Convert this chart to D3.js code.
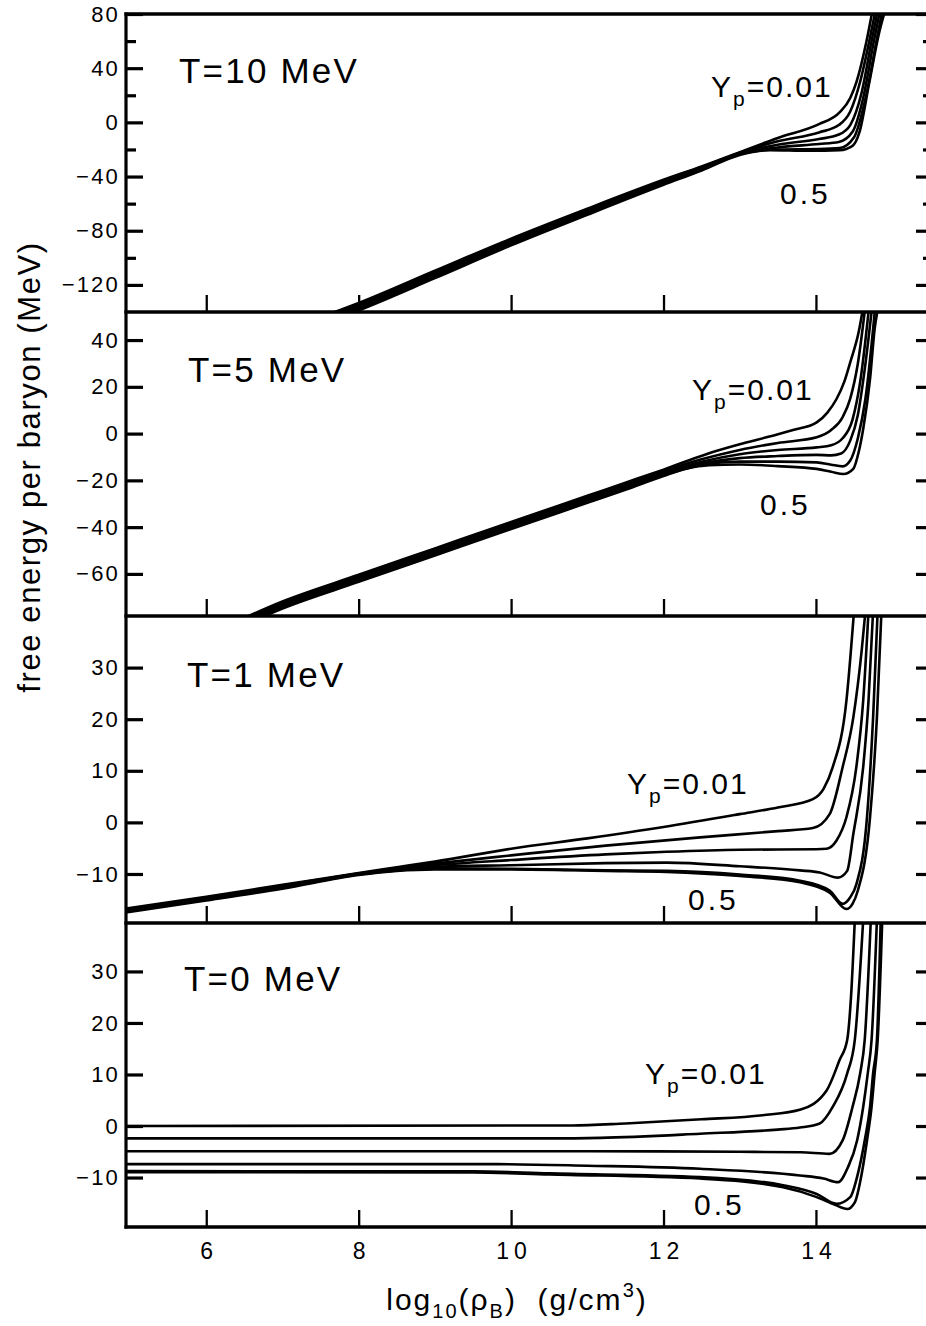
<!DOCTYPE html>
<html><head><meta charset="utf-8">
<script src="https://cdn.jsdelivr.net/npm/d3@7"></script>
<style>
body{margin:0;background:#fff;}
svg{display:block;}
text{font-family:"Liberation Sans",Arial,Helvetica,sans-serif;fill:#000;}
</style>
</head><body>
<svg id="chart" width="926" height="1326"></svg>
<script>
// ---------------- DATA ----------------
const xDomain = [4.947, 15.536];          // log10(rho_B) range of the plot frame
const xTicks = [6, 8, 10, 12, 14];
const ypValues = [0.01, 0.1, 0.2, 0.3, 0.4, 0.5];
const panelTitles = ["T=10 MeV", "T=5 MeV", "T=1 MeV", "T=0 MeV"];
const yDomains = [[-140, 80], [-78, 52], [-19.5, 40], [-19.6, 39.4]];
const yMajorTicks = [[-120, -80, -40, 0, 40, 80], [-60, -40, -20, 0, 20, 40], [-10, 0, 10, 20, 30], [-10, 0, 10, 20, 30]];
const yMinorTicks = [[-100, -60, -20, 20, 60], [], [], []];

// T = 10 MeV : [log10 rho, F/A (MeV)]
const T10_Yp001 = [[7.6,-141.8],[8,-133.3],[9,-109.5],[10,-85.8],[11,-63.7],[12,-42.4],[12.5,-32.5],[13,-22],[13.5,-11.5],[14.04,-1.3],[14.31,7.4],[14.45,18],[14.53,29.5],[14.66,59],[14.75,85]];
const T10_Yp01  = [[7.6,-142.9],[8,-134.4],[9,-110.6],[10,-86.8],[11,-64.6],[12,-43.1],[12.5,-33.1],[13,-22.4],[13.5,-14],[14.04,-7.4],[14.3,-2],[14.45,8],[14.58,30],[14.7,60],[14.79,85]];
const T10_Yp02  = [[7.6,-144],[8,-135.5],[9,-111.7],[10,-87.8],[11,-65.5],[12,-43.9],[12.5,-33.7],[13,-22.8],[13.5,-16.5],[14.04,-12.3],[14.3,-9],[14.45,-2],[14.6,22],[14.73,60],[14.82,85]];
const T10_Yp03  = [[7.6,-145.1],[8,-136.6],[9,-112.8],[10,-88.8],[11,-66.4],[12,-44.6],[12.5,-34.3],[13,-23.2],[13.5,-18.5],[14.04,-16],[14.3,-14.5],[14.48,-7],[14.62,18],[14.76,60],[14.85,85]];
const T10_Yp04  = [[7.6,-146.2],[8,-137.7],[9,-113.9],[10,-89.8],[11,-67.3],[12,-45.4],[12.5,-34.9],[13,-23.6],[13.5,-20],[14.04,-19.7],[14.31,-19],[14.5,-11],[14.66,20],[14.8,62],[14.88,85]];
const T10_Yp05  = [[7.6,-147.3],[8,-138.8],[9,-115],[10,-90.8],[11,-68.2],[12,-46.1],[12.5,-35.5],[13,-24],[13.39,-20.5],[13.91,-21],[14.31,-20.5],[14.48,-17.3],[14.57,-7.4],[14.7,29.5],[14.83,66.4],[14.92,85]];

// T = 5 MeV
const T5_Yp001 = [[6.4,-80.3],[7,-71.8],[8,-60.4],[9,-49.1],[10,-37.8],[11,-26.6],[11.5,-21],[12,-15.4],[12.57,-8.7],[13,-4.6],[13.35,-1.6],[13.7,1.5],[14.01,4.8],[14.15,9],[14.27,14.8],[14.37,22],[14.45,30.5],[14.56,43.3],[14.63,56]];
const T5_Yp01  = [[6.4,-80.9],[7,-72.4],[8,-61],[9,-49.7],[10,-38.4],[11,-27.2],[11.5,-21.6],[12,-16],[12.5,-11],[13,-7],[13.5,-4],[14.01,-1.6],[14.2,1.5],[14.35,7],[14.45,15],[14.55,30],[14.65,55]];
const T5_Yp02  = [[6.4,-81.5],[7,-73],[8,-61.6],[9,-50.3],[10,-39],[11,-27.8],[11.5,-22.2],[12,-16.6],[12.5,-12],[13,-8.8],[13.5,-7],[14.01,-5.9],[14.2,-5],[14.35,-2],[14.48,6],[14.58,22],[14.7,55]];
const T5_Yp03  = [[6.4,-82.1],[7,-73.6],[8,-62.2],[9,-50.9],[10,-39.6],[11,-28.4],[11.5,-22.8],[12,-17.2],[12.5,-12.8],[13,-10.5],[13.5,-9.6],[14.01,-9.1],[14.2,-9.3],[14.33,-8.5],[14.45,-3],[14.55,8],[14.63,25],[14.74,55]];
const T5_Yp04  = [[6.4,-82.7],[7,-74.2],[8,-62.8],[9,-51.5],[10,-40.2],[11,-29],[11.5,-23.4],[12,-17.7],[12.5,-13.4],[13,-12],[13.5,-12],[14.01,-12.3],[14.2,-13.3],[14.35,-14],[14.45,-11.5],[14.55,-2],[14.65,15],[14.78,55]];
const T5_Yp05  = [[6.4,-83.3],[7,-74.8],[8,-63.4],[9,-52.1],[10,-40.8],[11,-29.6],[11.5,-24],[12,-18.1],[12.3,-15],[12.6,-13.5],[13,-13.2],[13.5,-13.9],[14.01,-15.1],[14.2,-16.3],[14.36,-17.3],[14.49,-15.1],[14.56,-8],[14.62,2],[14.71,23.4],[14.77,44.7],[14.83,56]];

// T = 1 MeV
const T1_Yp001 = [[4.9,-16.8],[6,-14.4],[7,-12.1],[8,-9.8],[8.5,-8.7],[9,-7.6],[10,-5.1],[11,-3.1],[12,-0.9],[13,1.6],[13.5,2.9],[13.96,4.5],[14.1,6.5],[14.22,10.7],[14.4,23.6],[14.5,41]];
const T1_Yp01  = [[4.9,-16.95],[6,-14.55],[7,-12.25],[8,-9.9],[8.5,-8.9],[9,-8.0],[10,-6.4],[11.24,-4.5],[12.48,-2.9],[13.5,-1.7],[13.96,-1.1],[14.18,1.6],[14.35,10.7],[14.49,20.3],[14.6,33.3],[14.65,41]];
const T1_Yp02  = [[4.9,-17.1],[6,-14.7],[7,-12.4],[8,-9.95],[8.5,-9.0],[9,-8.3],[10,-7.3],[11.24,-6.2],[12.04,-5.7],[13,-5.3],[14.0,-5.2],[14.14,-5.1],[14.27,-3.5],[14.4,1.0],[14.53,10.7],[14.62,23.6],[14.69,41]];
const T1_Yp03  = [[4.9,-17.25],[6,-14.85],[7,-12.55],[8,-10.0],[8.5,-9.15],[9,-8.6],[10,-8.3],[11.24,-7.9],[12.04,-7.8],[13,-8.5],[13.79,-9.3],[14.05,-9.7],[14.29,-10.7],[14.41,-9.4],[14.49,-2.3],[14.62,10.7],[14.69,23.6],[14.75,41]];
const T1_Yp04  = [[4.9,-17.4],[6,-15.0],[7,-12.7],[8,-10.1],[8.5,-9.3],[9,-8.9],[10,-9.0],[11.24,-9.3],[12.04,-9.4],[13,-10.1],[13.79,-11.3],[14.18,-13.2],[14.35,-15.8],[14.45,-14.5],[14.53,-12.0],[14.67,1.0],[14.75,20.3],[14.81,41]];
const T1_Yp05  = [[4.9,-17.55],[6,-15.15],[7,-12.85],[8,-10.2],[8.5,-9.4],[9,-9.1],[10,-9.1],[11.24,-9.4],[12.04,-9.6],[13,-10.4],[13.79,-11.6],[14.18,-13.6],[14.4,-16.8],[14.48,-15.8],[14.55,-13.2],[14.71,1.0],[14.8,20.3],[14.86,41]];

// T = 0 MeV
const T0_Yp001 = [[4.9,0],[10.8,0.1],[11.5,0.5],[12.5,1.3],[13.3,2.1],[13.8,3.2],[14.14,6.9],[14.31,12.8],[14.41,16.7],[14.46,25],[14.51,40]];
const T0_Yp01  = [[4.9,-2.4],[10.5,-2.4],[11.17,-2.3],[12.48,-1.5],[13.5,-0.7],[13.79,-0.3],[14.05,0.5],[14.22,3.7],[14.41,10.2],[14.51,16.7],[14.62,40]];
const T0_Yp02  = [[4.9,-4.9],[11,-4.9],[13,-5.0],[13.8,-5.1],[14.18,-5.4],[14.35,-2.8],[14.48,3.7],[14.58,10.2],[14.64,16.7],[14.72,40]];
const T0_Yp03  = [[4.9,-7.4],[9.8,-7.4],[11,-7.7],[12.48,-8.3],[13.79,-9.6],[14.1,-10.2],[14.29,-10.9],[14.42,-8.0],[14.54,-2.8],[14.62,3.7],[14.68,10.2],[14.73,16.7],[14.8,40]];
const T0_Yp04  = [[4.9,-8.75],[9.5,-8.8],[10.5,-9.2],[12.48,-9.9],[13.57,-11.5],[14.01,-13.2],[14.27,-15.1],[14.45,-13.8],[14.55,-9.3],[14.64,-2.8],[14.71,3.7],[14.75,10.2],[14.8,16.7],[14.85,40]];
const T0_Yp05  = [[4.9,-8.95],[9.5,-9.0],[10.5,-9.4],[12.48,-10.2],[13.57,-11.9],[14.01,-13.8],[14.25,-15.3],[14.41,-16.1],[14.51,-14.8],[14.6,-9.3],[14.67,-2.8],[14.73,3.7],[14.77,10.2],[14.81,16.7],[14.87,40]];

const panelSeries = [
  [T10_Yp001, T10_Yp01, T10_Yp02, T10_Yp03, T10_Yp04, T10_Yp05],
  [T5_Yp001,  T5_Yp01,  T5_Yp02,  T5_Yp03,  T5_Yp04,  T5_Yp05],
  [T1_Yp001,  T1_Yp01,  T1_Yp02,  T1_Yp03,  T1_Yp04,  T1_Yp05],
  [T0_Yp001,  T0_Yp01,  T0_Yp02,  T0_Yp03,  T0_Yp04,  T0_Yp05]
];

// ---------------- LAYOUT ----------------
const LEFT = 126, RIGHT = 933;
const panelTop = [14, 312, 616, 923];
const panelBot = [312, 616, 923, 1227];
const titlePos = [[179, 83], [188, 382], [187, 687], [184, 991]];
const ypPos = [[711, 97], [692, 400], [627, 794], [645, 1084]];
const halfPos = [[780, 204], [760, 515], [688, 910], [694, 1215]];
const FONT = '"Liberation Sans",Arial,sans-serif';

const svg = d3.select("#chart");
const x = d3.scaleLinear().domain(xDomain).range([LEFT, RIGHT]);
const line = d3.line().curve(d3.curveMonotoneX);

function styleAxis(g, w) {
  g.selectAll(".domain").remove();
  g.selectAll(".tick line").attr("stroke", "#000").attr("stroke-width", w);
}

panelSeries.forEach((series, i) => {
  const y = d3.scaleLinear().domain(yDomains[i]).range([panelBot[i], panelTop[i]]);
  const g = svg.append("g");

  const cid = "clip" + i;
  svg.append("clipPath").attr("id", cid).append("rect")
    .attr("x", LEFT).attr("y", panelTop[i]).attr("width", RIGHT - LEFT).attr("height", panelBot[i] - panelTop[i]);

  const cg = g.append("g").attr("clip-path", `url(#${cid})`);
  line.x(d => x(d[0])).y(d => y(d[1]));
  series.forEach(s => {
    cg.append("path").attr("d", line(s)).attr("fill", "none")
      .attr("stroke", "#000").attr("stroke-width", 2.6).attr("stroke-linejoin", "round");
  });

  // left axis
  const la = g.append("g").attr("transform", `translate(${LEFT},0)`)
    .call(d3.axisLeft(y).tickValues(yMajorTicks[i]).tickSize(-17).tickSizeOuter(0).tickPadding(6).tickFormat(d3.format("d")));
  la.attr("font-size", null).attr("font-family", null);
  styleAxis(la, 3.2);
  la.selectAll(".tick text").style("font-size", "22px").style("letter-spacing", "2.2px")
    .style("font-family", FONT).attr("fill", "#000");
  if (yMinorTicks[i].length) {
    const lm = g.append("g").attr("transform", `translate(${LEFT},0)`)
      .call(d3.axisLeft(y).tickValues(yMinorTicks[i]).tickSize(-10).tickSizeOuter(0).tickFormat(""));
    styleAxis(lm, 3.2);
  }
  // right axis
  const ra = g.append("g").attr("transform", `translate(${RIGHT},0)`)
    .call(d3.axisRight(y).tickValues(yMajorTicks[i]).tickSize(-17).tickSizeOuter(0).tickFormat(""));
  styleAxis(ra, 3.2);
  if (yMinorTicks[i].length) {
    const rm = g.append("g").attr("transform", `translate(${RIGHT},0)`)
      .call(d3.axisRight(y).tickValues(yMinorTicks[i]).tickSize(-10).tickSizeOuter(0).tickFormat(""));
    styleAxis(rm, 3.2);
  }
  // bottom axis
  const isLast = i === panelSeries.length - 1;
  const ba = g.append("g").attr("transform", `translate(0,${panelBot[i]})`)
    .call(d3.axisBottom(x).tickValues(xTicks).tickSize(-17).tickSizeOuter(0).tickPadding(16)
      .tickFormat(isLast ? d3.format("d") : ""));
  ba.attr("font-size", null).attr("font-family", null);
  styleAxis(ba, 2.3);
  ba.selectAll(".tick text").style("font-size", "23px").style("letter-spacing", "5px").attr("dx", "2.5px")
    .style("font-family", FONT).attr("fill", "#000");

  // frame lines
  g.append("line").attr("x1", LEFT - 1.6).attr("x2", RIGHT).attr("y1", panelBot[i]).attr("y2", panelBot[i])
    .attr("stroke", "#000").attr("stroke-width", 3.3);
  if (i === 0) {
    g.append("line").attr("x1", LEFT - 1.6).attr("x2", RIGHT).attr("y1", panelTop[i]).attr("y2", panelTop[i])
      .attr("stroke", "#000").attr("stroke-width", 3.3);
  }

  // labels
  g.append("text").attr("x", titlePos[i][0]).attr("y", titlePos[i][1])
    .attr("font-size", 35).attr("letter-spacing", "2.2px").text(panelTitles[i]);
  const yt = g.append("text").attr("x", ypPos[i][0]).attr("y", ypPos[i][1])
    .attr("font-size", 30).attr("letter-spacing", "2px");
  yt.append("tspan").text("Y");
  yt.append("tspan").attr("font-size", 21).attr("dy", 9).text("p");
  yt.append("tspan").attr("dy", -9).text("=" + ypValues[0]);
  g.append("text").attr("x", halfPos[i][0]).attr("y", halfPos[i][1])
    .attr("font-size", 30).attr("letter-spacing", "3px").text(ypValues[ypValues.length - 1]);
});

// left axis spine
svg.append("line").attr("x1", LEFT).attr("x2", LEFT).attr("y1", panelTop[0] - 1.6).attr("y2", panelBot[3] + 1.6)
  .attr("stroke", "#000").attr("stroke-width", 3.2);

// axis titles
const xt = svg.append("text").attr("x", 517).attr("y", 1310).attr("text-anchor", "middle")
  .attr("font-size", 30).attr("letter-spacing", "2px");
xt.append("tspan").text("log");
xt.append("tspan").attr("font-size", 20).attr("dy", 8).text("10");
xt.append("tspan").attr("dy", -8).text("(ρ");
xt.append("tspan").attr("font-size", 20).attr("dy", 8).text("B");
xt.append("tspan").attr("dy", -8).text(")\u00a0\u00a0(g/cm");
xt.append("tspan").attr("font-size", 20).attr("dy", -13).text("3");
xt.append("tspan").attr("dy", 13).text(")");

svg.append("text").attr("transform", "translate(40,467) rotate(-90)").attr("text-anchor", "middle")
  .attr("font-size", 31).attr("letter-spacing", "1.6px").text("free energy per baryon (MeV)");
</script>
</body></html>
